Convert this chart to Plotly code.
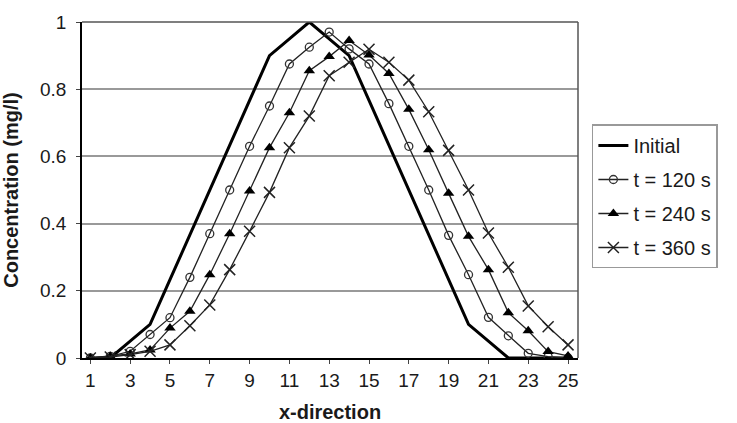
import plotly.graph_objects as go

x_cat = list(range(1, 26))
x_tick_vals = [1, 3, 5, 7, 9, 11, 13, 15, 17, 19, 21, 23, 25]
y_tick_vals = [0, 0.2, 0.4, 0.6, 0.8, 1]
y_tick_text = ["0", "0.2", "0.4", "0.6", "0.8", "1"]

initial = [0, 0, 0.05, 0.1, 0.233, 0.367, 0.5, 0.633, 0.767, 0.9, 0.95, 1.0,
           0.95, 0.9, 0.767, 0.633, 0.5, 0.367, 0.233, 0.1, 0.05, 0, 0, 0, 0]
t120 = [0, 0.005, 0.02, 0.07, 0.12, 0.24, 0.37, 0.50, 0.63, 0.75, 0.875, 0.925,
        0.97, 0.92, 0.875, 0.757, 0.63, 0.5, 0.365, 0.248, 0.121, 0.066, 0.014, 0.004, 0]
t240 = [0, 0.005, 0.012, 0.024, 0.089, 0.139, 0.248, 0.37, 0.497, 0.626, 0.73, 0.855,
        0.897, 0.945, 0.902, 0.847, 0.74, 0.62, 0.49, 0.362, 0.263, 0.135, 0.081, 0.019, 0.006]
t360 = [0, 0.003, 0.01, 0.02, 0.039, 0.096, 0.158, 0.263, 0.377, 0.493, 0.626, 0.72,
        0.84, 0.88, 0.919, 0.88, 0.827, 0.733, 0.618, 0.5, 0.372, 0.27, 0.155, 0.093, 0.039]

FONT = "Liberation Sans, Arial, sans-serif"

fig = go.Figure()
fig.add_trace(go.Scatter(x=x_cat, y=initial, mode="lines", name="Initial",
                         line=dict(color="black", width=3), legendgroup="a"))
fig.add_trace(go.Scatter(x=x_cat, y=t120, mode="lines+markers", name="t = 120 s",
                         line=dict(color="#222", width=1.3), legendgroup="b",
                         marker=dict(symbol="circle-open", size=8, color="#333",
                                     line=dict(width=1.3))))
fig.add_trace(go.Scatter(x=x_cat, y=t240, mode="lines+markers", name="t = 240 s",
                         line=dict(color="#222", width=1.3), legendgroup="c",
                         marker=dict(symbol="triangle-up", size=10, color="black")))
fig.add_trace(go.Scatter(x=x_cat, y=t360, mode="lines+markers", name="t = 360 s",
                         line=dict(color="#222", width=1.3), legendgroup="d",
                         marker=dict(symbol="x-thin-open", size=11, color="#222",
                                     line=dict(width=1.5, color="#222"))))

fig.update_layout(
    width=737, height=423,
    margin=dict(l=82, r=159, t=22, b=65),
    paper_bgcolor="white", plot_bgcolor="white",
    font=dict(family=FONT, size=19, color="#1a1a1a"),
    legend=dict(x=1.028, xanchor="left", y=0.695, yanchor="top",
                bordercolor="#999", borderwidth=1.5, bgcolor="white",
                font=dict(size=20, color="#1a1a1a"), tracegroupgap=5,
                itemwidth=30),
    shapes=[dict(type="line", xref="paper", yref="paper", x0=1, x1=1, y0=0, y1=1,
                 line=dict(color="#555", width=1.5)),
            dict(type="line", xref="paper", yref="paper", x0=0, x1=1, y0=1, y1=1,
                 line=dict(color="#555", width=1.5))],
)
fig.update_xaxes(range=[0.58, 25.5], tickmode="array", tickvals=x_tick_vals,
                 showgrid=False, zeroline=False, showline=True, linecolor="black",
                 linewidth=2, ticks="outside", ticklen=4, tickcolor="#444",
                 automargin=False,
                 title=dict(text="<b>x-direction</b>", font=dict(size=20), standoff=16),
                 tickfont=dict(size=19))
fig.update_yaxes(range=[0, 1], tickmode="array", tickvals=y_tick_vals, ticktext=y_tick_text,
                 showgrid=True, gridcolor="#999", gridwidth=1.5, zeroline=False,
                 showline=True, linecolor="black", linewidth=1.5,
                 ticks="outside", ticklen=4, tickcolor="#444", ticklabelstandoff=6,
                 automargin=False,
                 title=dict(text="<b>Concentration (mg/l)</b>", font=dict(size=20), standoff=18),
                 tickfont=dict(size=19))

fig.write_html("out.html")
